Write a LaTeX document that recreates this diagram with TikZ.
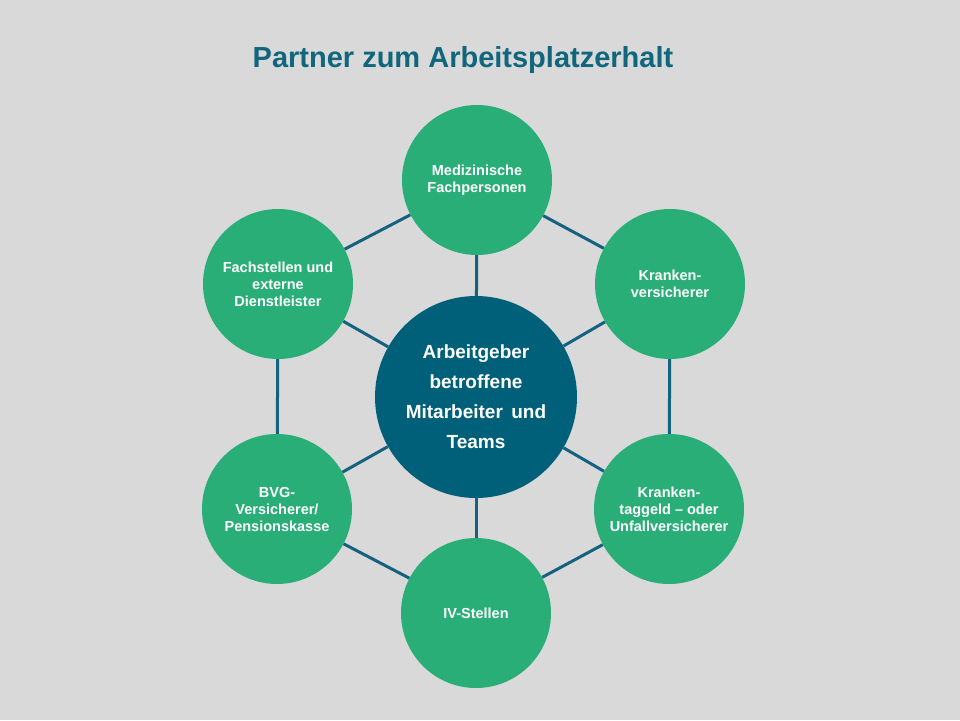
\documentclass[tikz,border=0pt]{standalone}
\usepackage{fontspec}
\setmainfont{Liberation Sans}
\definecolor{bg}{RGB}{217,217,217}
\definecolor{grn}{RGB}{42,174,119}
\definecolor{teal}{RGB}{0,96,122}
\definecolor{lnk}{RGB}{20,98,128}
\definecolor{ttl}{RGB}{16,102,125}
\begin{document}
\begin{tikzpicture}[x=1pt,y=-1pt,
  outer/.style={circle,fill=grn,minimum size=150pt,inner sep=0pt,text=white,font=\bfseries\fontsize{14.5}{17}\selectfont,align=center},
  inner/.style={circle,fill=teal,minimum size=202pt,inner sep=0pt,text=white,font=\bfseries\fontsize{19}{30}\selectfont,align=center},
  link/.style={draw=lnk,line width=3pt}]
\fill[bg] (0,0) rectangle (960,720);
\useasboundingbox (0,0) rectangle (960,720);
\node[text=ttl,font=\bfseries\fontsize{29}{34}\selectfont] (title) at (463,60) {Partner zum Arbeitsplatzerhalt};
\node[inner] (c) at (476,397) {Arbeitgeber\\betroffene\\Mitarbeiter\, und\\Teams};
\node[outer] (t) at (477,180) {Medizinische\\Fachpersonen};
\node[outer] (ur) at (670,284) {Kranken-\\versicherer};
\node[outer] (lr) at (669,509) {Kranken-\\taggeld -- oder\\Unfallversicherer};
\node[outer] (b) at (476,613) {IV-Stellen};
\node[outer] (ll) at (277,509) {BVG-\\Versicherer/\\Pensionskasse};
\node[outer] (ul) at (278,284) {Fachstellen und\\externe\\Dienstleister};
\foreach \n in {t,ur,lr,b,ll,ul} \draw[link] (c) -- (\n);
\draw[link] (t) -- (ur); \draw[link] (ur) -- (lr); \draw[link] (lr) -- (b);
\draw[link] (b) -- (ll); \draw[link] (ll) -- (ul); \draw[link] (ul) -- (t);
\end{tikzpicture}
\end{document}
